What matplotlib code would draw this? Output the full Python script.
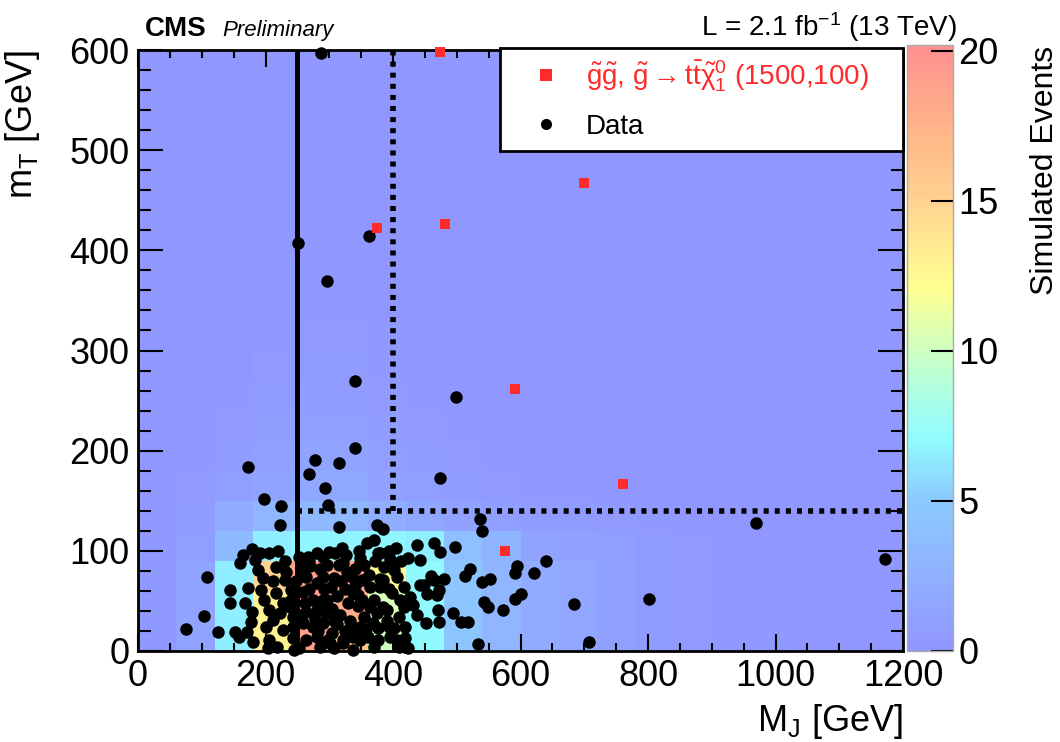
import numpy as np
import matplotlib
matplotlib.use("Agg")
import matplotlib.pyplot as plt
from matplotlib.colors import LinearSegmentedColormap

plt.rcParams['font.family'] = ['Liberation Sans', 'DejaVu Sans']
plt.rcParams['mathtext.fontset'] = 'custom'
plt.rcParams['mathtext.rm'] = 'Liberation Sans'
plt.rcParams['mathtext.it'] = 'Liberation Sans'
plt.rcParams['mathtext.bf'] = 'Liberation Sans:bold'

# simulated background: 60 GeV x 30 GeV bins, rows from mT = 0 upwards
mj_edges = np.arange(0, 1260, 60)
mt_edges = np.arange(0, 630, 30)
sim_rows = [
    [0.3, 1.2, 6.5, 13, 19, 16, 10, 7, 4.5, 3, 2, 1.5, 1, 0.5, 0.4, 0.3, 0.3, 0.2, 0.2, 0.2],
    [0.3, 1.2, 6.5, 13, 19.5, 18, 10.5, 7, 4.5, 3, 2, 1.5, 1, 0.5, 0.4, 0.3, 0.3, 0.2, 0.2, 0.2],
    [0.3, 1.2, 6.5, 15, 19, 18.5, 12.5, 7, 4.5, 3, 2, 1.5, 1, 0.5, 0.4, 0.3, 0.3, 0.2, 0.2, 0.2],
    [0.3, 0.8, 3.5, 6.5, 6.8, 6.8, 6.8, 6.5, 4, 2.8, 1.2, 1, 0.8, 0.5, 0.4, 0.3, 0.2, 0.2, 0.2, 0.2],
    [0.2, 0.6, 2, 3, 3.2, 3.2, 2.2, 1.6, 1.1, 0.8, 0.6, 0.5, 0.4, 0.3, 0.2, 0.2, 0.2, 0.1, 0.1, 0.1],
    [0.2, 0.4, 0.9, 1.3, 1.6, 1.6, 1.1, 0.9, 0.6, 0.4, 0.3, 0.3, 0.2, 0.2, 0.1, 0.1, 0.1, 0.1, 0.1, 0.1],
    [0.1, 0.3, 0.6, 1.0, 1.2, 1.2, 0.8, 0.6, 0.4, 0.3, 0.2, 0.2, 0.2, 0.1, 0.1, 0.1, 0.1, 0.1, 0.1, 0.1],
    [0.1, 0.2, 0.4, 0.7, 0.9, 0.9, 0.6, 0.4, 0.3, 0.2, 0.2, 0.1, 0.1, 0.1, 0.1, 0.1, 0.1, 0.1, 0.1, 0.1],
    [0.1, 0.2, 0.3, 0.5, 0.6, 0.6, 0.4, 0.3, 0.2, 0.2, 0.1, 0.1, 0.1, 0.1, 0.1, 0.1, 0.1, 0.1, 0.1, 0.1],
    [0.1, 0.1, 0.2, 0.4, 0.5, 0.5, 0.3, 0.2, 0.2, 0.1, 0.1, 0.1, 0.1, 0.1, 0.1, 0.1, 0.1, 0.1, 0.1, 0.1],
    [0.1, 0.1, 0.2, 0.3, 0.4, 0.4, 0.3, 0.2, 0.1, 0.1, 0.1, 0.1, 0.1, 0.1, 0.1, 0.1, 0.1, 0.1, 0.1, 0.1],
    [0.1, 0.1, 0.2, 0.3, 0.3, 0.3, 0.2, 0.2, 0.1, 0.1, 0.1, 0.1, 0.1, 0.1, 0.1, 0.1, 0.1, 0.1, 0.1, 0.1],
    [0.1, 0.1, 0.1, 0.2, 0.3, 0.3, 0.2, 0.1, 0.1, 0.1, 0.1, 0.1, 0.1, 0.1, 0.1, 0.1, 0.1, 0.1, 0.1, 0.1],
    [0.1, 0.1, 0.1, 0.2, 0.2, 0.2, 0.2, 0.1, 0.1, 0.1, 0.1, 0.1, 0.1, 0.1, 0.1, 0.1, 0.1, 0.1, 0.1, 0.1],
    [0.1, 0.1, 0.1, 0.2, 0.2, 0.2, 0.1, 0.1, 0.1, 0.1, 0.1, 0.1, 0.1, 0.1, 0.1, 0.1, 0.1, 0.1, 0.1, 0.1],
    [0.1, 0.1, 0.1, 0.1, 0.2, 0.2, 0.1, 0.1, 0.1, 0.1, 0.1, 0.1, 0.1, 0.1, 0.1, 0.1, 0.1, 0.1, 0.1, 0.1],
    [0.1, 0.1, 0.1, 0.1, 0.1, 0.1, 0.1, 0.1, 0.1, 0.1, 0.1, 0.1, 0.1, 0.1, 0.1, 0.1, 0.1, 0.1, 0.1, 0.1],
    [0.1, 0.1, 0.1, 0.1, 0.1, 0.1, 0.1, 0.1, 0.1, 0.1, 0.1, 0.1, 0.1, 0.1, 0.1, 0.1, 0.1, 0.1, 0.1, 0.1],
    [0.1, 0.1, 0.1, 0.1, 0.1, 0.1, 0.1, 0.1, 0.1, 0.1, 0.1, 0.1, 0.1, 0.1, 0.1, 0.1, 0.1, 0.1, 0.1, 0.1],
    [0.1, 0.1, 0.1, 0.1, 0.1, 0.1, 0.1, 0.1, 0.1, 0.1, 0.1, 0.1, 0.1, 0.1, 0.1, 0.1, 0.1, 0.1, 0.1, 0.1],
]

# signal points (1500,100)
sig_mj = [375, 482, 473, 592, 700, 761, 575]
sig_mt = [422, 426, 598, 262, 467, 167, 100]

# data events (MJ, mT)
data_pts = [
    (287, 597), (251, 407), (363, 414), (297, 369), (341, 270), (499, 254), (341, 203), (474, 173),
    (172, 184), (197, 152), (225, 145), (269, 177), (277, 191), (294, 163), (298, 146), (315, 188),
    (316, 124), (222, 126), (375, 126), (385, 122), (536, 132), (539, 120), (970, 128), (1172, 92),
    (801, 52), (684, 47), (707, 9), (640, 90), (621, 78), (595, 85), (591, 78), (552, 72),
    (521, 82), (513, 75), (601, 57), (591, 52), (573, 41), (542, 49), (549, 44), (498, 104),
    (494, 38), (506, 29), (517, 29), (534, 7), (540, 69),
    (164, 96), (160, 88), (179, 102), (192, 98), (206, 98), (220, 100), (183, 91), (188, 81),
    (217, 84), (232, 79), (253, 94), (259, 84), (269, 91), (280, 98), (290, 94), (299, 99),
    (309, 98), (320, 103), (322, 88), (328, 79), (346, 100), (349, 93), (359, 108), (370, 111),
    (377, 98), (393, 100), (398, 84), (404, 103), (423, 93), (438, 106), (443, 91), (464, 108),
    (474, 99),
    (109, 74), (104, 35), (75, 22), (126, 19), (145, 61), (145, 48), (172, 63), (168, 48),
    (179, 39), (152, 19), (158, 14), (171, 19), (181, 9), (177, 29),
    (230, 71), (196, 73), (193, 61), (198, 51), (206, 41), (211, 31), (201, 24), (206, 11),
    (204, 3), (217, 58), (227, 48), (222, 38), (227, 21), (218, 4),
    (240, 61), (240, 51), (238, 44), (243, 34), (243, 24), (243, 13), (244, 1),
    (264, 74), (280, 68), (290, 74), (259, 59), (274, 51), (290, 51), (264, 39), (280, 41),
    (295, 38), (259, 28), (274, 24), (290, 28), (264, 11), (280, 14), (298, 11), (253, 3),
    (285, 4), (301, 8),
    (307, 73), (302, 64), (338, 58), (351, 51), (351, 71), (364, 64), (317, 36), (336, 23),
    (351, 19), (349, 11), (322, 11), (338, 1), (307, 3), (288, 44), (296, 51),
    (255, 80), (270, 85), (285, 82), (312, 55), (325, 62), (330, 48), (312, 27), (325, 20),
    (305, 18), (345, 45), (340, 82), (355, 86), (340, 65), (268, 62), (315, 86),
    (379, 72), (380, 64), (393, 62), (385, 44), (370, 51), (377, 23), (393, 24), (402, 23),
    (377, 11), (370, 4), (385, 71), (364, 44), (354, 34), (349, 24), (338, 14), (322, 8),
    (375, 38), (391, 41),
    (401, 81), (406, 74), (417, 64), (411, 51), (417, 44), (396, 14), (406, 11), (409, 4),
    (419, 4), (424, 3), (419, 24), (419, 13),
    (426, 54), (431, 46), (437, 36), (453, 57), (469, 56), (443, 66), (459, 75), (448, 66),
    (472, 61), (464, 71), (480, 72), (470, 41), (452, 28), (472, 29),
    (248, 70), (262, 48), (278, 32), (292, 62), (305, 42), (318, 70), (332, 30), (345, 56),
    (358, 22), (362, 76), (372, 90), (386, 84), (390, 30), (398, 58), (410, 34), (252, 36),
    (266, 94), (283, 20), (296, 86), (308, 30), (326, 96), (336, 74), (348, 88), (360, 14),
    (368, 28), (380, 98), (395, 92), (412, 90), (230, 90), (212, 70),
]
data_mj = [p[0] for p in data_pts]
data_mt = [p[1] for p in data_pts]

# signal-region boundaries
mj_cut_low = 250
mj_cut_high = 400
mt_cut = 140

root_colors = [
    (0.00, '#9096ff'), (0.12, '#90b0ff'), (0.25, '#8ccbff'), (0.35, '#90fcff'),
    (0.43, '#b0ffe0'), (0.50, '#d0ffc0'), (0.60, '#ffff90'), (0.70, '#ffe090'),
    (0.75, '#ffd090'), (0.85, '#ffb888'), (1.00, '#ff9090'),
]
cmap = LinearSegmentedColormap.from_list('pastel_rainbow', root_colors)

fig = plt.figure(figsize=(10.6, 7.42), dpi=100)
ax = fig.add_axes([138 / 1060, 1 - 651 / 742, 765 / 1060, 601 / 742])

mesh = ax.pcolormesh(mj_edges, mt_edges, np.array(sim_rows), cmap=cmap,
                     vmin=0, vmax=20.2, shading='flat', zorder=0)

ax.plot([mj_cut_low, mj_cut_low], [0, 600], color='black', lw=3.6, zorder=2)
ax.plot([mj_cut_high, mj_cut_high], [mt_cut, 600], color='black', lw=4,
        dashes=(0.9, 1.1), zorder=2)
ax.plot([mj_cut_low, 1200], [mt_cut, mt_cut], color='black', lw=4,
        dashes=(0.9, 1.1), zorder=2)

ax.plot(data_mj, data_mt, 'o', color='black', ms=9, mew=0, zorder=3,
        label='Data', clip_on=False)
ax.plot(sig_mj, sig_mt, 's', color='#ff2a2a', ms=7.5, mew=0, zorder=4, clip_on=False,
        label=r'$\tilde{g}\tilde{g}$, $\tilde{g}\rightarrow t\bar{t}\tilde{\chi}_1^0$ (1500,100)')

ax.set_xlim(0, 1200)
ax.set_ylim(0, 600)
ax.set_xticks(np.arange(0, 1201, 200))
ax.set_yticks(np.arange(0, 601, 100))
ax.set_xticks(np.arange(0, 1201, 50), minor=True)
ax.set_yticks(np.arange(0, 601, 20), minor=True)
ax.tick_params(axis='both', which='both', direction='in', top=True, right=True,
               width=1.5, labelsize=26)
ax.tick_params(axis='x', which='major', length=12, pad=6)
ax.tick_params(axis='x', which='minor', length=6)
ax.tick_params(axis='y', which='major', length=18, pad=6)
ax.tick_params(axis='y', which='minor', length=9)
for s in ax.spines.values():
    s.set_linewidth(2)

ax.set_xlabel(r'M$_\mathregular{J}$ [GeV]', fontsize=26, ha='right')
ax.xaxis.set_label_coords(1.0, -0.085)
ax.set_ylabel(r'm$_\mathregular{T}$ [GeV]', fontsize=26, ha='right')
ax.yaxis.set_label_coords(-0.125, 1.0)

handles, labels = ax.get_legend_handles_labels()
leg = ax.legend(handles[::-1], labels[::-1], loc='upper left',
                bbox_to_anchor=(0.473, 1.004, 0.527, 0.0), mode='expand',
                fontsize=20, frameon=True, fancybox=False, framealpha=1,
                edgecolor='black', borderpad=0.4, labelspacing=0.7,
                handletextpad=0.2, handlelength=2.5, borderaxespad=0)
leg.get_frame().set_linewidth(2)
leg.set_zorder(10)
leg.get_texts()[0].set_color('#ff2a2a')
for h in leg.legend_handles:
    h.set_markersize(8)

cax = fig.add_axes([907 / 1060, 1 - 651 / 742, 46 / 1060, 606 / 742])
cb = fig.colorbar(mesh, cax=cax)
cb.set_ticks([0, 5, 10, 15, 20])
cb.outline.set_edgecolor('#aaaaaa')
cb.outline.set_linewidth(1)
cax.tick_params(direction='in', length=16, width=1.5, labelsize=26, pad=4)

fig.text(1045 / 1060, 1 - 46 / 742, 'Simulated Events', rotation=90, fontsize=23,
         ha='center', va='top')
fig.text(145 / 1060, 1 - 36 / 742, 'CMS', fontsize=20, fontweight='bold',
         ha='left', va='baseline')
fig.text(222 / 1060, 1 - 36 / 742, 'Preliminary', fontsize=16, style='italic',
         ha='left', va='baseline')
fig.text(957 / 1060, 1 - 36 / 742, r'L = 2.1 fb$^{-1}$ (13 TeV)', fontsize=20,
         ha='right', va='baseline')

fig.savefig('out.png', dpi=100)
